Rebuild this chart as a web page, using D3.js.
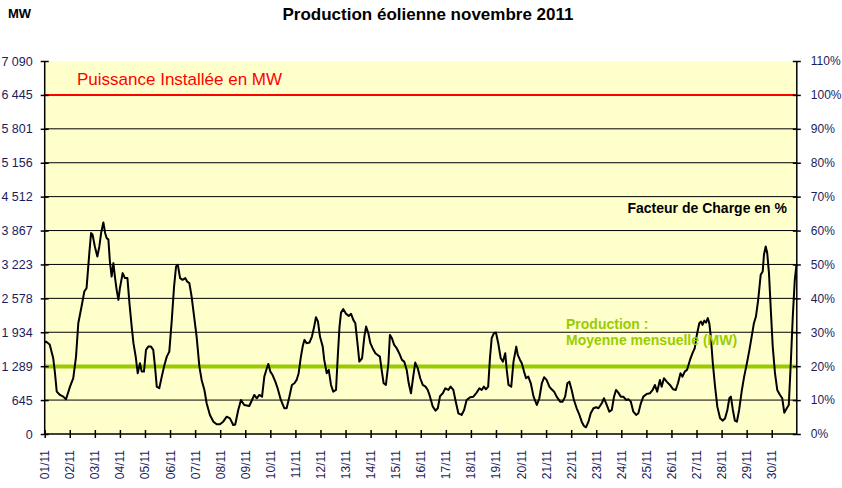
<!DOCTYPE html>
<html>
<head>
<meta charset="utf-8">
<script src="https://cdn.jsdelivr.net/npm/d3@7"></script>
<style>
  body { margin: 0; background: #fff; }
  svg { display: block; }
  text { font-family: "Liberation Sans", Arial, sans-serif; }
</style>
</head>
<body>
<svg></svg>
<script>
var width = 842;
var height = 488;

// valeurs
var puissanceInstallee = 6445;
var moyenneMensuelle = 1285;
var mwTicks = [0, 645, 1289, 1934, 2578, 3223, 3867, 4512, 5156, 5801, 6445, 7090];
var pctTicks = [0, 10, 20, 30, 40, 50, 60, 70, 80, 90, 100, 110];

// jours écoulés depuis le 01/11 00h
var jours = [
  0.0, 0.05, 0.2, 0.34, 0.41, 0.48, 0.61, 0.74, 0.85, 1.01, 1.14, 1.25, 1.34, 1.47, 1.58, 1.67, 1.78, 1.85, 1.91,
  2.0, 2.10, 2.18, 2.25, 2.34, 2.41, 2.47, 2.54, 2.60, 2.67, 2.74, 2.80, 2.87, 2.94, 3.0, 3.11, 3.20, 3.30, 3.38,
  3.47, 3.54, 3.63, 3.71, 3.80, 3.87, 3.96, 4.04, 4.13, 4.24, 4.33, 4.40, 4.47, 4.57, 4.67, 4.76, 4.87, 4.97,
  5.07, 5.16, 5.24, 5.31, 5.40, 5.50, 5.61, 5.68, 5.77, 5.86, 5.96, 6.06, 6.17, 6.26, 6.37, 6.46, 6.59, 6.73,
  6.86, 6.99, 7.12, 7.26, 7.39, 7.52, 7.60, 7.72, 7.83, 7.96, 8.16, 8.27, 8.36, 8.46, 8.56, 8.67, 8.76, 8.86,
  8.92, 9.0, 9.09, 9.20, 9.29, 9.42, 9.56, 9.65, 9.76, 9.86, 9.96, 10.05, 10.13, 10.22, 10.29, 10.36, 10.45,
  10.56, 10.66, 10.75, 10.82, 10.90, 10.98, 11.09, 11.15, 11.25, 11.33, 11.42, 11.51, 11.62, 11.69, 11.76,
  11.82, 11.91, 12.02, 12.13, 12.22, 12.31, 12.39, 12.49, 12.55, 12.66, 12.75, 12.82, 12.91, 12.99, 13.08,
  13.19, 13.28, 13.37, 13.44, 13.52, 13.61, 13.71, 13.77, 13.85, 13.94, 14.04, 14.14, 14.25, 14.34, 14.44,
  14.52, 14.61, 14.70, 14.78, 14.88, 14.98, 15.08, 15.19, 15.28, 15.37, 15.48, 15.59, 15.68, 15.77, 15.88,
  15.98, 16.10, 16.19, 16.30, 16.41, 16.50, 16.63, 16.73, 16.83, 16.97, 17.10, 17.23, 17.34, 17.43, 17.52,
  17.60, 17.69, 17.76, 17.83, 17.92, 18.0, 18.09, 18.19, 18.28, 18.37, 18.43, 18.50, 18.61, 18.70, 18.81,
  18.87, 18.96, 19.03, 19.12, 19.20, 19.29, 19.39, 19.50, 19.63, 19.73, 19.83, 19.92, 20.02, 20.13, 20.22,
  20.32, 20.42, 20.56, 20.66, 20.76, 20.85, 20.93, 21.02, 21.11, 21.22, 21.33, 21.42, 21.51, 21.59, 21.69,
  21.78, 21.89, 22.0, 22.09, 22.22, 22.31, 22.42, 22.52, 22.62, 22.71, 22.79, 22.88, 22.98, 23.08, 23.19,
  23.28, 23.38, 23.48, 23.59, 23.68, 23.78, 23.88, 24.01, 24.14, 24.25, 24.34, 24.43, 24.54, 24.61, 24.70,
  24.81, 24.94, 25.07, 25.17, 25.26, 25.36, 25.44, 25.53, 25.62, 25.74, 25.84, 25.93, 26.0, 26.11, 26.18,
  26.24, 26.31, 26.38, 26.45, 26.51, 26.57, 26.65, 26.74, 26.83, 26.94, 27.05, 27.14, 27.23, 27.31, 27.37,
  27.45, 27.53, 27.61, 27.70, 27.81, 27.90, 28.01, 28.11, 28.20, 28.29, 28.37, 28.46, 28.56, 28.64, 28.69,
  28.76, 28.82, 28.89, 28.97, 29.04, 29.13, 29.22, 29.33, 29.42, 29.50, 29.60, 29.68, 29.76, 29.84, 29.92, 29.99
];
var productionMW = [
  1740, 1757, 1700, 1440, 1155, 805, 742, 710, 660, 900, 1060, 1471, 2106, 2423, 2708, 2772, 3439, 3820, 3787,
  3565, 3374, 3565, 3820, 4021, 3820, 3724, 3700, 3279, 2993, 3248, 2993, 2740, 2550, 2772, 3058, 2963, 2963, 2487,
  2042, 1726, 1471, 1155, 1345, 1186, 1186, 1598, 1661, 1661, 1598, 1281, 900, 869, 1090, 1281, 1471, 1566,
  2169, 2803, 3184, 3216, 2963, 2931, 2963, 2899, 2867, 2613, 2232, 1852, 1281, 1028, 837, 584, 362, 234,
  184, 184, 234, 329, 298, 171, 180, 457, 647, 552, 533, 647, 742, 679, 742, 710, 1090, 1250,
  1332, 1186, 1120, 995, 869, 647, 489, 489, 710, 932, 964, 1028, 1155, 1471, 1661, 1789, 1726,
  1738, 1852, 2042, 2220, 2137, 1852, 1661, 1408, 1155, 1218, 932, 805, 837, 1471, 2042,
  2308, 2373, 2284, 2245, 2284, 2169, 2106, 1661, 1376, 1440, 1852, 2042, 1916, 1726, 1631,
  1536, 1503, 1471, 1218, 964, 932, 1345, 1884, 1821, 1694, 1631, 1536, 1408, 1376, 1218,
  964, 774, 1090, 1357, 1250, 1060, 932, 900, 837, 710, 520, 444, 489, 720, 774,
  869, 837, 900, 837, 584, 394, 362, 457, 647, 698, 710, 786, 869, 837, 900,
  850, 900, 1440, 1821, 1916, 1928, 1726, 1440, 1376, 1536, 1218, 932, 900, 1376, 1661,
  1503, 1408, 1345, 1186, 1060, 1090, 964, 710, 552, 679, 964, 1079, 1028, 900, 850,
  805, 710, 615, 615, 710, 964, 995, 837, 647, 489, 362, 234, 152, 127, 234,
  394, 489, 508, 489, 584, 679, 552, 424, 457, 710, 837, 786, 710, 710, 647,
  660, 615, 424, 362, 394, 584, 710, 761, 774, 837, 932, 805, 1028, 900, 1060,
  995, 932, 850, 837, 964, 1155, 1090, 1186, 1218, 1408, 1536, 1631, 1852, 2106, 2137,
  2074, 2156, 2118, 2202, 2106, 1852, 1345, 900, 520, 298, 254, 298, 457, 679, 710,
  457, 254, 234, 457, 837, 1090, 1345, 1598, 1852, 2106, 2232, 2550, 3026, 3089, 3406,
  3565, 3439, 3058, 2297, 1661, 1155, 837, 742, 679, 405, 489, 552, 1345, 2232, 2931, 3230
];

var debut = new Date(2011, 10, 1);
var fin = new Date(2011, 11, 1);
var serie = jours.map(function(d, i) {
  return { date: new Date(debut.getTime() + d * 864e5), v: productionMW[i] };
});

var plotLeft = 44.7, plotRight = 796.8, plotTop = 61, plotBottom = 434;
var axisColor = "#1c1c5c";

var svg = d3.select("svg").attr("width", width).attr("height", height);

var x = d3.scaleTime().domain([debut, fin]).range([plotLeft, plotRight]);
var y = d3.scaleLinear().domain([0, 7090]).range([plotBottom, plotTop]);
var yPct = d3.scaleLinear().domain([0, 110]).range([plotBottom, plotTop]);

var fr = d3.formatLocale({ decimal: ",", thousands: "\u00a0", grouping: [3], currency: ["", " €"] });
var fmtMW = fr.format(",d");

// fond du graphique
svg.append("rect")
  .attr("x", plotLeft).attr("y", plotTop)
  .attr("width", plotRight - plotLeft).attr("height", plotBottom - plotTop)
  .attr("fill", "#FFFFCC");

// grille
svg.append("g").selectAll("line")
  .data(mwTicks.filter(function(d) { return d > 0 && d < puissanceInstallee; }))
  .enter().append("line")
  .attr("x1", plotLeft).attr("x2", plotRight)
  .attr("y1", function(d) { return y(d); })
  .attr("y2", function(d) { return y(d); })
  .attr("stroke", "#000").attr("stroke-width", 1);

// puissance installée
svg.append("line")
  .attr("x1", plotLeft).attr("x2", plotRight)
  .attr("y1", y(puissanceInstallee)).attr("y2", y(puissanceInstallee))
  .attr("stroke", "#FF0000").attr("stroke-width", 2);

// moyenne mensuelle
svg.append("line")
  .attr("x1", plotLeft).attr("x2", plotRight)
  .attr("y1", y(moyenneMensuelle)).attr("y2", y(moyenneMensuelle))
  .attr("stroke", "#99CC00").attr("stroke-width", 4);

// production
var line = d3.line()
  .x(function(d) { return x(d.date); })
  .y(function(d) { return y(d.v); });

svg.append("path")
  .datum(serie)
  .attr("d", line)
  .attr("fill", "none")
  .attr("stroke", "#000")
  .attr("stroke-width", 2)
  .attr("stroke-linejoin", "round");

// axes
var xAxis = svg.append("g")
  .attr("transform", "translate(0," + plotBottom + ")")
  .call(d3.axisBottom(x)
    .tickValues(d3.timeDay.range(debut, fin))
    .tickFormat(d3.timeFormat("%d/%m")));
xAxis.select(".domain").remove();
xAxis.selectAll(".tick line").attr("y1", -4).attr("y2", 4).attr("stroke", "#000").attr("stroke-width", 1.5);
xAxis.selectAll(".tick text")
  .attr("transform", "rotate(-90)")
  .attr("text-anchor", "end")
  .attr("x", -16).attr("y", 4).attr("dy", 0)
  .attr("font-size", 12)
  .attr("fill", axisColor);

var yAxis = svg.append("g")
  .attr("transform", "translate(" + plotLeft + ",0)")
  .call(d3.axisLeft(y).tickValues(mwTicks).tickFormat(fmtMW));
yAxis.select(".domain").remove();
yAxis.selectAll(".tick line").attr("x1", -4).attr("x2", 4).attr("stroke", "#000").attr("stroke-width", 1.5);
yAxis.selectAll(".tick text").attr("x", -12).attr("font-size", 12.5).attr("fill", axisColor);

var pAxis = svg.append("g")
  .attr("transform", "translate(" + plotRight + ",0)")
  .call(d3.axisRight(yPct).tickValues(pctTicks).tickFormat(function(d) { return d + "%"; }));
pAxis.select(".domain").remove();
pAxis.selectAll(".tick line").attr("x1", -4).attr("x2", 4).attr("stroke", "#000").attr("stroke-width", 1.5);
pAxis.selectAll(".tick text").attr("x", 14).attr("font-size", 12).attr("fill", axisColor);

// traits d'axes
svg.append("line").attr("x1", plotLeft).attr("x2", plotLeft).attr("y1", plotTop).attr("y2", plotBottom)
  .attr("stroke", "#000").attr("stroke-width", 1.5);
svg.append("line").attr("x1", plotRight).attr("x2", plotRight).attr("y1", plotTop).attr("y2", plotBottom)
  .attr("stroke", "#000").attr("stroke-width", 1.5);
svg.append("line").attr("x1", plotLeft).attr("x2", plotRight).attr("y1", plotBottom).attr("y2", plotBottom)
  .attr("stroke", "#000").attr("stroke-width", 1.5);

// textes
svg.append("text").attr("x", 428).attr("y", 20).attr("text-anchor", "middle")
  .attr("font-size", 17).attr("font-weight", "bold")
  .text("Production éolienne novembre 2011");

svg.append("text").attr("x", 8).attr("y", 18)
  .attr("font-size", 13).attr("font-weight", "bold")
  .text("MW");

svg.append("text").attr("x", 77).attr("y", 85)
  .attr("font-size", 17).attr("fill", "#FF0000")
  .text("Puissance Installée en MW");

svg.append("text").attr("x", 787).attr("y", 213).attr("text-anchor", "end")
  .attr("font-size", 14).attr("font-weight", "bold")
  .text("Facteur de Charge  en %");

svg.append("text").attr("x", 566).attr("y", 329)
  .attr("font-size", 14).attr("font-weight", "bold").attr("fill", "#99CC00")
  .text("Production :");
svg.append("text").attr("x", 566).attr("y", 345)
  .attr("font-size", 14).attr("font-weight", "bold").attr("fill", "#99CC00")
  .text("Moyenne mensuelle (MW)");
</script>
</body>
</html>
